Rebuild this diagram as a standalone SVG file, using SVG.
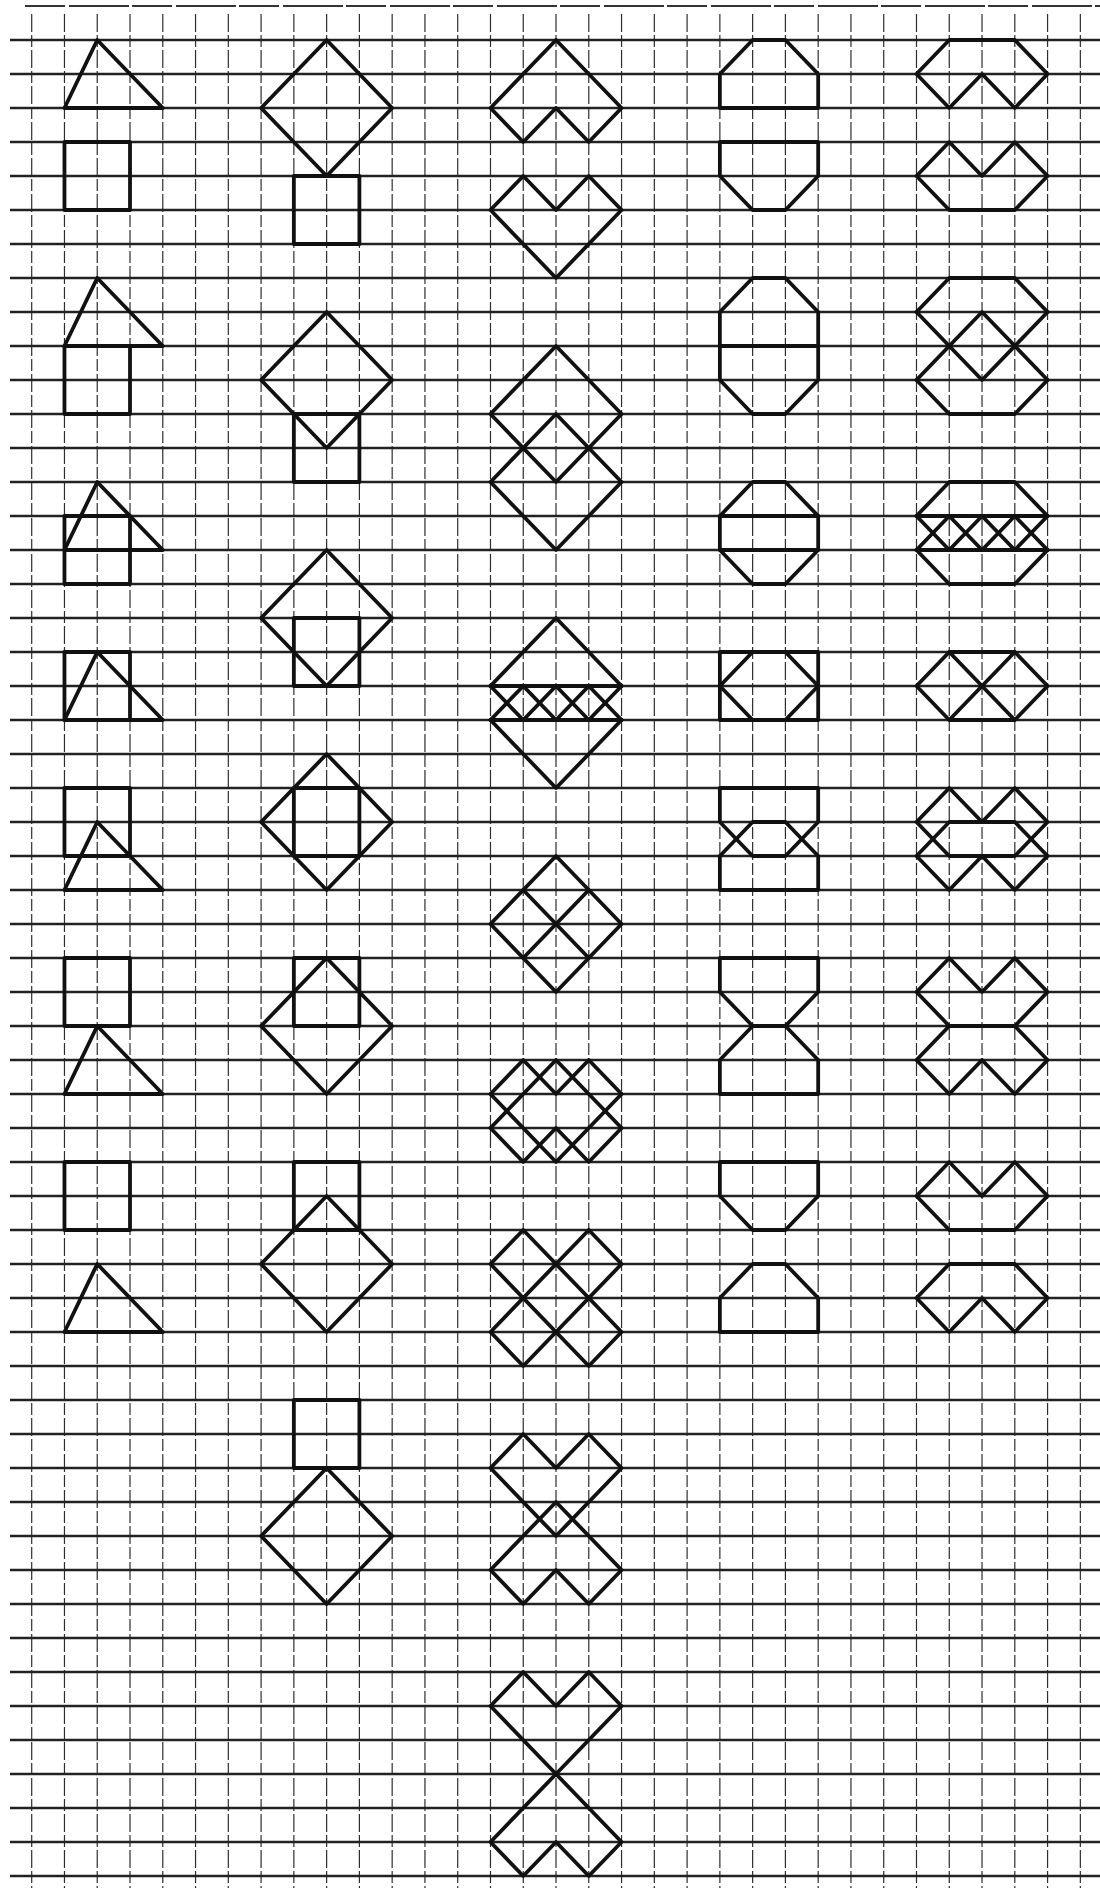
<svg xmlns="http://www.w3.org/2000/svg" width="1100" height="1888" viewBox="0 0 1100 1888">
<style>
.hl{fill:none;stroke:#222;stroke-width:2.3}
.top{fill:none;stroke:#333;stroke-width:1.8;stroke-dasharray:40 4 60 3}
.vl{fill:none;stroke:#2e2e2e;stroke-width:1.2;stroke-dasharray:18 3 12 3}
.fig *{fill:none;stroke:#111;stroke-width:3.8;stroke-linejoin:round;stroke-linecap:round;vector-effect:non-scaling-stroke}
</style>
<rect width="1100" height="1888" fill="#fff"/>
<g id="grid">
<path class="top" d="M25 6H1100"/>
<path class="vl" d="M31.7 14V1888M64.47 14V1888M97.24 14V1888M130.01 14V1888M162.78 14V1888M195.55 14V1888M228.32 14V1888M261.09 14V1888M293.86 14V1888M326.63 14V1888M359.4 14V1888M392.17 14V1888M424.94 14V1888M457.71 14V1888M490.48 14V1888M523.25 14V1888M556.02 14V1888M588.79 14V1888M621.56 14V1888M654.33 14V1888M687.1 14V1888M719.87 14V1888M752.64 14V1888M785.41 14V1888M818.18 14V1888M850.95 14V1888M883.72 14V1888M916.49 14V1888M949.26 14V1888M982.03 14V1888M1014.8 14V1888M1047.57 14V1888M1080.34 14V1888"/>
<path class="hl" d="M10 40H1100M10 74H1100M10 108H1100M10 142H1100M10 176H1100M10 210H1100M10 244H1100M10 278H1100M10 312H1100M10 346H1100M10 380H1100M10 414H1100M10 448H1100M10 482H1100M10 516H1100M10 550H1100M10 584H1100M10 618H1100M10 652H1100M10 686H1100M10 720H1100M10 754H1100M10 788H1100M10 822H1100M10 856H1100M10 890H1100M10 924H1100M10 958H1100M10 992H1100M10 1026H1100M10 1060H1100M10 1094H1100M10 1128H1100M10 1162H1100M10 1196H1100M10 1230H1100M10 1264H1100M10 1298H1100M10 1332H1100M10 1366H1100M10 1400H1100M10 1434H1100M10 1468H1100M10 1502H1100M10 1536H1100M10 1570H1100M10 1604H1100M10 1638H1100M10 1672H1100M10 1706H1100M10 1740H1100M10 1774H1100M10 1808H1100M10 1842H1100M10 1876H1100"/>
</g>
<g id="figures" class="fig" transform="matrix(32.77 0 0 34 31.7 40)">
<g id="c1-1"><polygon points="1,2 2,0 4,2"/></g>
<g id="c1-2"><rect x="1" y="3" width="2" height="2"/></g>
<g id="c1-3"><polygon points="1,9 2,7 4,9"/><rect x="1" y="9" width="2" height="2"/></g>
<g id="c1-4"><polygon points="1,15 2,13 4,15"/><rect x="1" y="14" width="2" height="2"/></g>
<g id="c1-5"><rect x="1" y="18" width="2" height="2"/><polygon points="1,20 2,18 4,20"/></g>
<g id="c1-6"><rect x="1" y="22" width="2" height="2"/><polygon points="1,25 2,23 4,25"/></g>
<g id="c1-7"><rect x="1" y="27" width="2" height="2"/><polygon points="1,31 2,29 4,31"/></g>
<g id="c1-8"><rect x="1" y="33" width="2" height="2"/><polygon points="1,38 2,36 4,38"/></g>

<g id="c2-1"><polygon points="9,0 11,2 9,4 7,2"/><rect x="8" y="4" width="2" height="2"/></g>
<g id="c2-2"><polygon points="9,8 11,10 9,12 7,10"/><rect x="8" y="11" width="2" height="2"/></g>
<g id="c2-3"><polygon points="9,15 11,17 9,19 7,17"/><rect x="8" y="17" width="2" height="2"/></g>
<g id="c2-4"><polygon points="9,21 11,23 9,25 7,23"/><rect x="8" y="22" width="2" height="2"/></g>
<g id="c2-5"><rect x="8" y="27" width="2" height="2"/><polygon points="9,27 11,29 9,31 7,29"/></g>
<g id="c2-6"><rect x="8" y="33" width="2" height="2"/><polygon points="9,34 11,36 9,38 7,36"/></g>
<g id="c2-7"><rect x="8" y="40" width="2" height="2"/><polygon points="9,42 11,44 9,46 7,44"/></g>

<g id="c3-1"><polygon points="14,2 16,0 18,2 17,3 16,2 15,3"/></g>
<g id="c3-2"><polygon points="14,5 15,4 16,5 17,4 18,5 16,7"/></g>
<g id="c3-3"><polygon points="16,9 18,11 16,13 14,11"/><polygon points="16,11 18,13 16,15 14,13"/></g>
<g id="c3-4"><polyline points="14,19 16,17 18,19"/><path d="M14 19H18M14 20H18"/><polyline points="14,19 15,20 16,19 17,20 18,19"/><polyline points="14,20 15,19 16,20 17,19 18,20"/><polyline points="14,20 16,22 18,20"/></g>
<g id="c3-5"><polygon points="16,24 18,26 16,28 14,26"/><path d="M15 25L17 27M17 25L15 27"/></g>
<g id="c3-6"><polyline points="14,31 15,30 16,31 17,30 18,31"/><polyline points="14,32 15,33 16,32 17,33 18,32"/><polyline points="14,32 16,30 18,32"/><polyline points="14,31 16,33 18,31"/></g>
<g id="c3-7"><path d="M15 35L18 38M14 36L17 39M17 35L14 38M18 36L15 39M14 36L15 35M17 35L18 36M14 38L15 39M17 39L18 38"/></g>
<g id="c3-8"><polygon points="14,42 15,41 16,42 17,41 18,42 16,44"/><polygon points="14,45 15,46 16,45 17,46 18,45 16,43"/></g>
<g id="c3-9"><polygon points="14,49 15,48 16,49 17,48 18,49 16,51"/><polygon points="16,51 18,53 17,54 16,53 15,54 14,53"/></g>

<g id="c4-1"><polygon points="21,1 22,0 23,0 24,1 24,2 21,2"/></g>
<g id="c4-2"><polygon points="21,3 24,3 24,4 23,5 22,5 21,4"/></g>
<g id="c4-3"><polygon points="22,7 23,7 24,8 24,10 23,11 22,11 21,10 21,8"/><path d="M21 9H24"/></g>
<g id="c4-4"><polygon points="22,13 23,13 24,14 24,15 23,16 22,16 21,15 21,14"/><path d="M21 14H24M21 15H24"/></g>
<g id="c4-5"><rect x="21" y="18" width="3" height="2"/><polygon points="21,19 22,18 23,18 24,19 23,20 22,20"/></g>
<g id="c4-6"><polygon points="21,24 22,23 23,23 24,24 24,25 21,25"/><polygon points="21,23 22,24 23,24 24,23 24,22 21,22"/></g>
<g id="c4-7"><polygon points="21,28 21,27 24,27 24,28 23,29 22,29"/><polygon points="22,29 23,29 24,30 24,31 21,31 21,30"/></g>
<g id="c4-8"><polygon points="21,33 24,33 24,34 23,35 22,35 21,34"/></g>
<g id="c4-9"><polygon points="22,36 23,36 24,37 24,38 21,38 21,37"/></g>

<g id="c5-1"><polygon points="27,1 28,0 30,0 31,1 30,2 29,1 28,2"/></g>
<g id="c5-2"><polygon points="27,4 28,3 29,4 30,3 31,4 30,5 28,5"/></g>
<g id="c5-3"><polyline points="27,8 28,7 30,7 31,8"/><polyline points="27,10 28,11 30,11 31,10"/><polyline points="27,8 29,10 31,8"/><polyline points="27,10 29,8 31,10"/></g>
<g id="c5-4"><polyline points="27,14 28,13 30,13 31,14"/><polyline points="27,15 28,16 30,16 31,15"/><path d="M27 14H31M27 15H31"/><polyline points="27,14 28,15 29,14 30,15 31,14"/><polyline points="27,15 28,14 29,15 30,14 31,15"/></g>
<g id="c5-5"><polygon points="27,19 28,18 30,18 31,19 30,20 28,20"/><path d="M28 18L30 20M30 18L28 20"/></g>
<g id="c5-6"><polygon points="27,23 28,22 29,23 30,22 31,23 30,24 28,24"/><polygon points="27,24 28,23 30,23 31,24 30,25 29,24 28,25"/></g>
<g id="c5-7"><polygon points="27,28 28,27 29,28 30,27 31,28 30,29 28,29"/><polygon points="27,30 28,29 30,29 31,30 30,31 29,30 28,31"/></g>
<g id="c5-8"><polygon points="27,34 28,33 29,34 30,33 31,34 30,35 28,35"/></g>
<g id="c5-9"><polygon points="27,37 28,36 30,36 31,37 30,38 29,37 28,38"/></g>
</g>
</svg>
